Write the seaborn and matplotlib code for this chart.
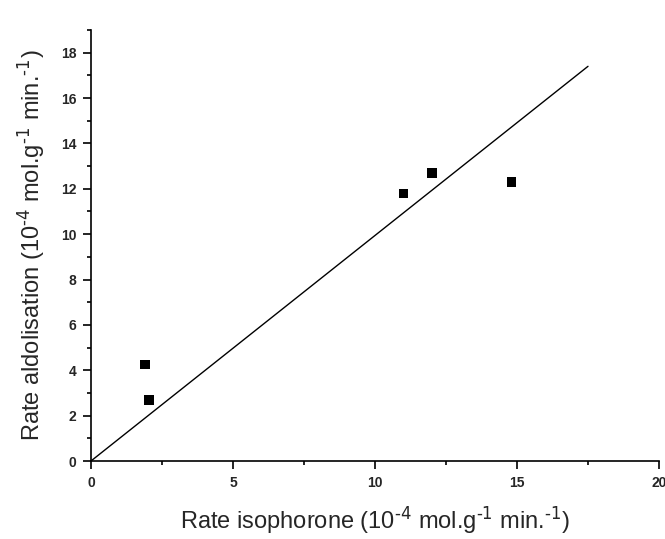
import matplotlib
matplotlib.use("Agg")
import matplotlib.pyplot as plt
from matplotlib.ticker import MultipleLocator
import pandas as pd
import seaborn as sns

# ----------------------------------------------------------
# Data
# ----------------------------------------------------------

RATE_ISOPHORONE = [1.9, 2.05, 11.0, 12.0, 14.8]
RATE_ALDOLISATION = [4.25, 2.7, 11.8, 12.7, 12.3]

FIT_X = [0.0, 17.5]
FIT_Y = [0.0, 17.4]

points = pd.DataFrame({"x": RATE_ISOPHORONE, "y": RATE_ALDOLISATION})
fit = pd.DataFrame({"x": FIT_X, "y": FIT_Y})

# ----------------------------------------------------------
# Figure
# ----------------------------------------------------------

sns.set_style("ticks")
plt.rcParams["font.family"] = ["Liberation Sans", "DejaVu Sans"]
plt.rcParams["mathtext.default"] = "regular"
plt.rcParams["axes.unicode_minus"] = False

fig = plt.figure(figsize=(6.65, 5.39), dpi=100)
ax = fig.add_axes([0.1368, 0.1447, 0.8542, 0.7996])

sns.lineplot(data=fit, x="x", y="y", color="black", linewidth=1.0, ax=ax)
sns.scatterplot(
    data=points,
    x="x",
    y="y",
    marker="s",
    color="black",
    s=48,
    edgecolor="none",
    ax=ax,
)

ax.set_xlim(0, 20)
ax.set_ylim(0, 19)

ax.xaxis.set_major_locator(MultipleLocator(5))
ax.xaxis.set_minor_locator(MultipleLocator(2.5))
ax.yaxis.set_major_locator(MultipleLocator(2))
ax.yaxis.set_minor_locator(MultipleLocator(1))

ax.tick_params(which="major", direction="out", length=5.5, width=1.2,
               labelsize=10, color="black")
ax.tick_params(which="minor", direction="out", length=3, width=1.2,
               color="black")
ax.tick_params(axis="x", pad=5)
ax.tick_params(axis="y", pad=5)
for lab in ax.get_xticklabels() + ax.get_yticklabels():
    lab.set_fontweight("bold")

for side in ("top", "right"):
    ax.spines[side].set_visible(False)
for side in ("left", "bottom"):
    ax.spines[side].set_linewidth(1.2)
    ax.spines[side].set_color("black")

units = r"(10$^{\text{-4}}$ mol.g$^{\text{-1}}$ min.$^{\text{-1}}$)"
ax.set_xlabel("Rate isophorone " + units, fontsize=17, labelpad=11)
ax.set_ylabel("Rate aldolisation " + units, fontsize=17, labelpad=10)

fig.savefig("out.png", dpi=100)
